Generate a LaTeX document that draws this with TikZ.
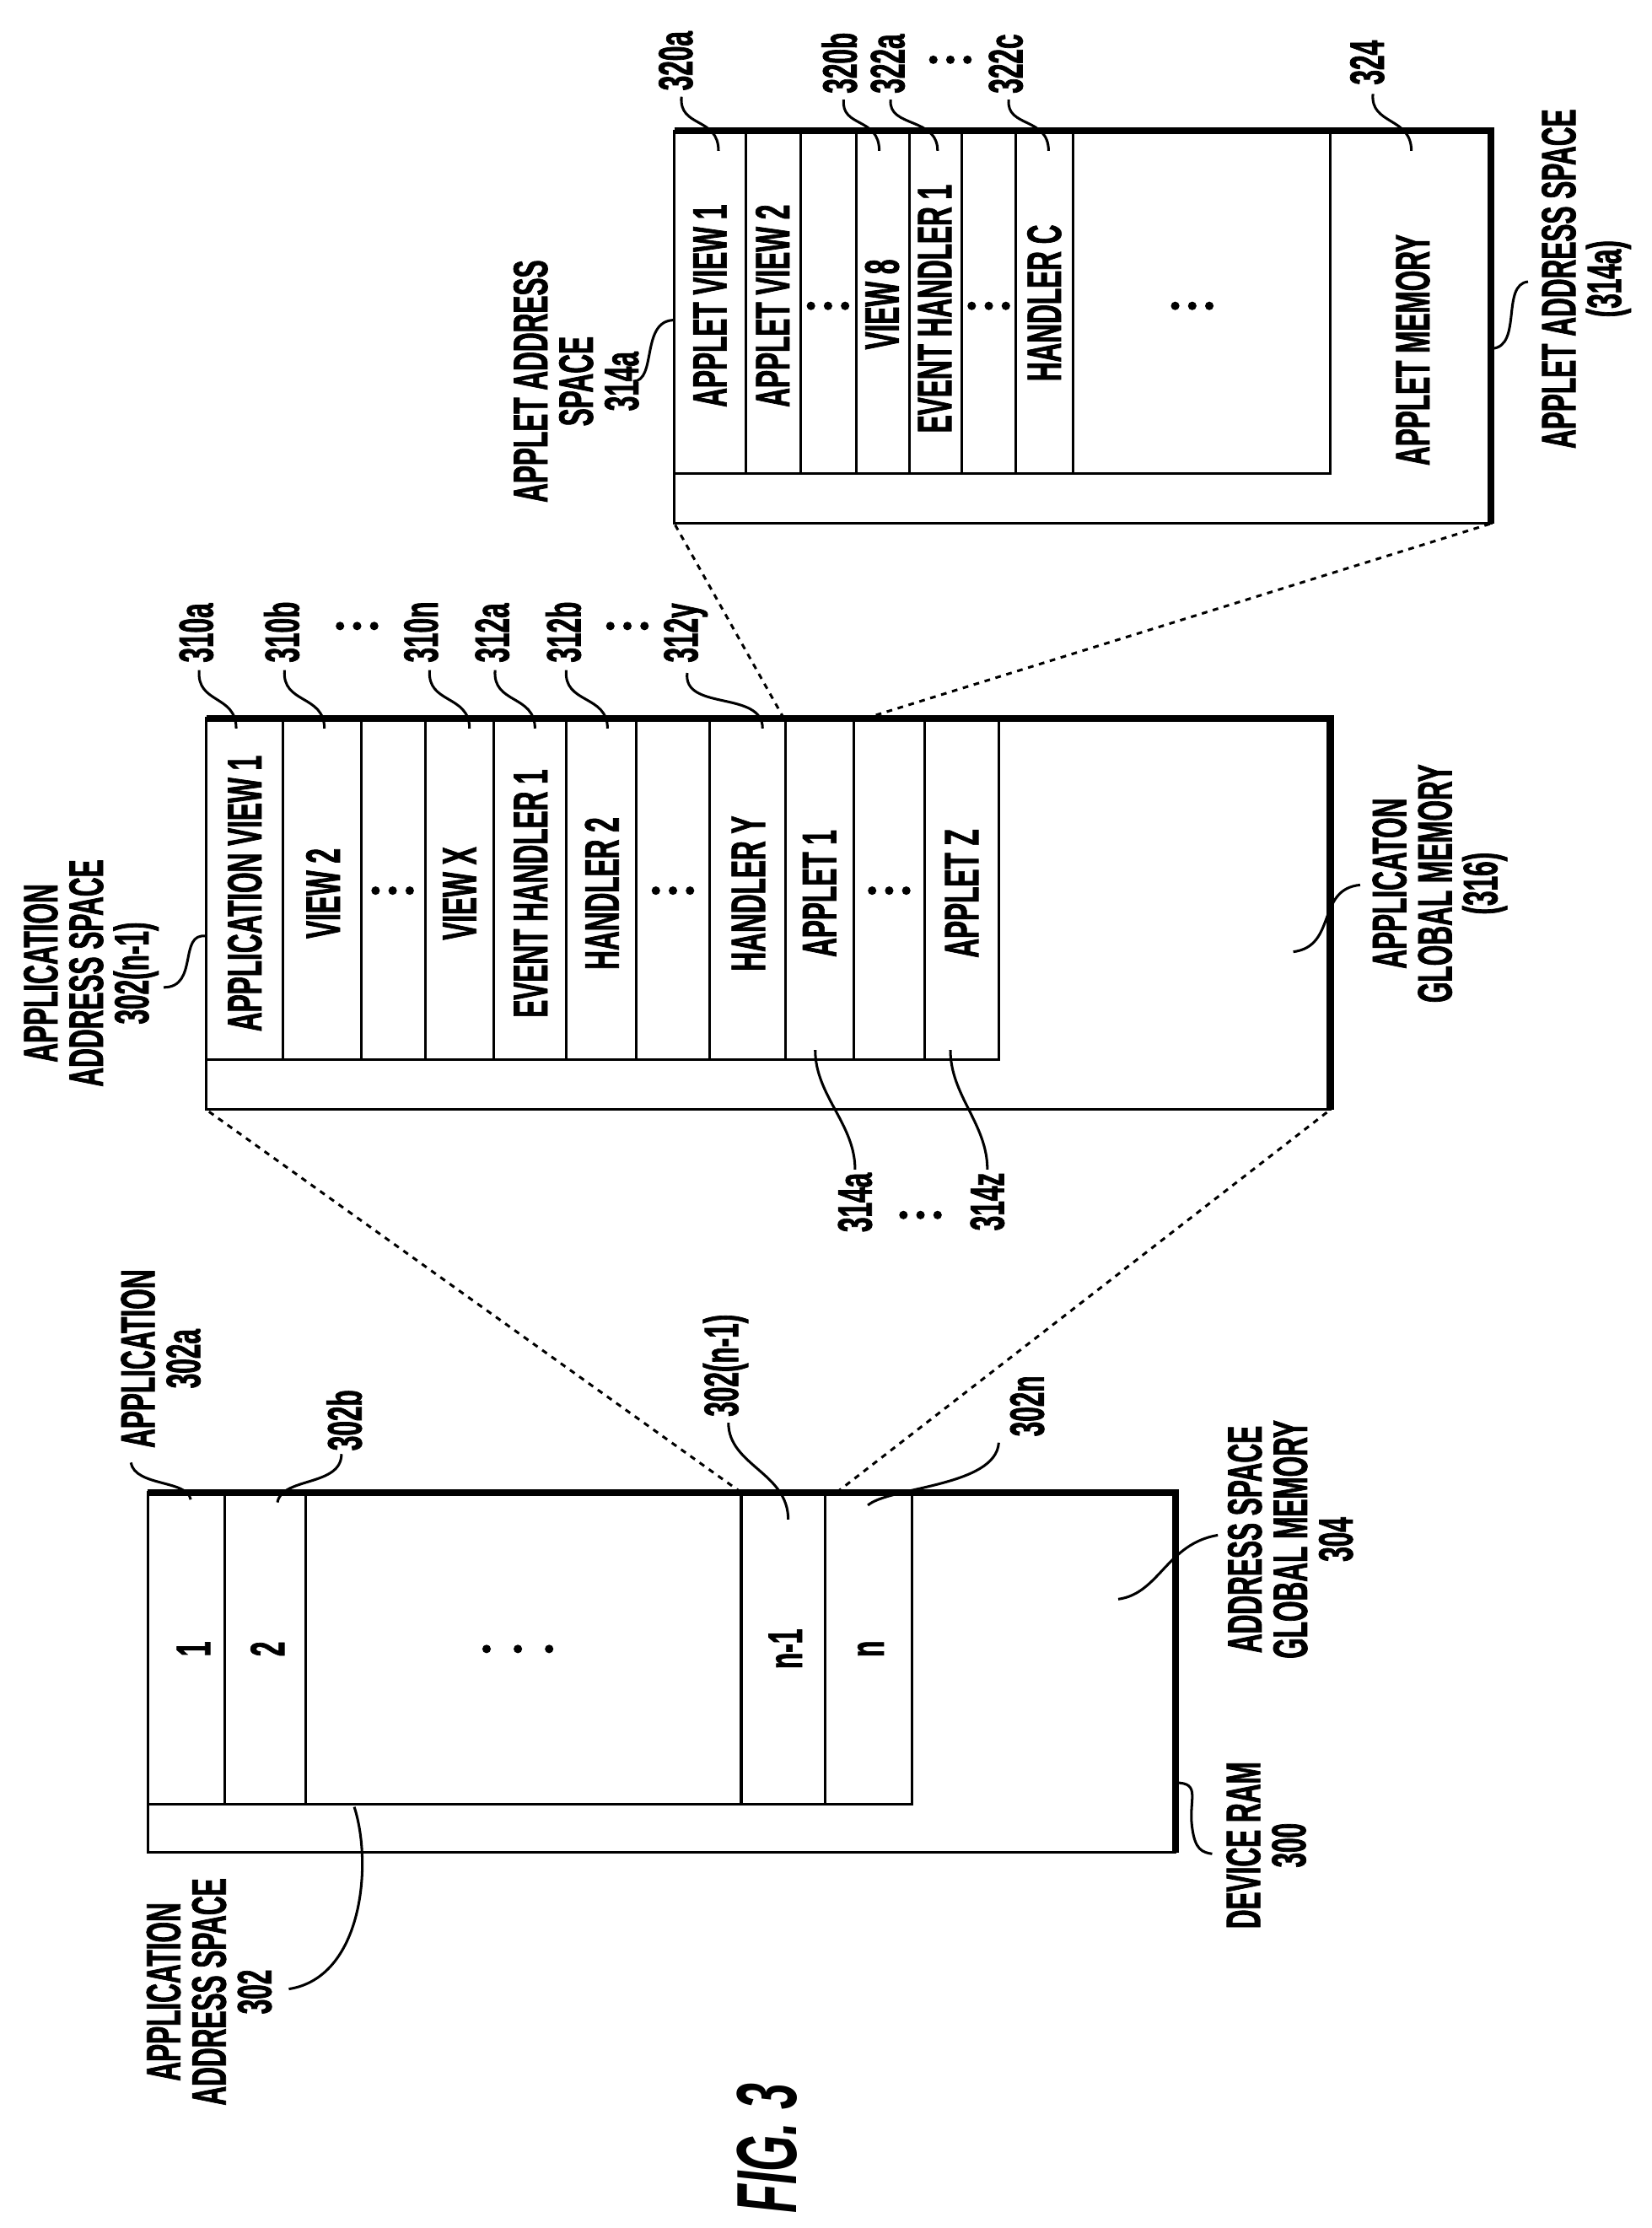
\documentclass[tikz,border=0pt]{standalone}
\usepackage{fontspec}
\setmainfont{Liberation Sans}[FakeStretch=0.55,BoldFeatures={FakeBold=1.2}]
\begin{document}
\begin{tikzpicture}[x=0.5pt,y=-0.5pt,
  box/.style={line width=0.9pt},
  thick edge/.style={line width=2.4pt},
  lead/.style={line width=0.9pt},
  dot/.style={dash pattern=on 2pt off 2pt,line width=0.9pt},
  t/.style={rotate=90,font=\bfseries\fontsize{17}{16}\selectfont,align=center,inner sep=1pt},
  lb/.style={rotate=90,font=\bfseries\fontsize{17}{16}\selectfont,align=center,inner sep=1pt}]
\useasboundingbox[fill=white] (0,0) rectangle (1161,1566);
\newcommand{\hdots}[2]{\foreach \dx in {-12,0,12} \fill (#1+\dx,#2) circle (3);}
% ---------------- DEVICE RAM ----------------
\draw[box] (104,1049) rectangle (826,1302);
\draw[box] (104,1268) -- (641,1268) -- (641,1049);
\foreach \x in {158,215,521,580} \draw[box] (\x,1049) -- (\x,1268);
\draw[thick edge] (104,1049) -- (826,1049) -- (826,1302);
\node[t] (r1) at (136,1159) {1};
\node[t] (r2) at (188,1159) {2};
\foreach \x in {342,364,386} \fill (\x,1159) circle (3);
\node[t] (rn1) at (552,1159) {n-1};
\node[t] (rn) at (612,1159) {n};
\node[lb] (l302a) at (113,955) {APPLICATION\\302a};
\draw[lead] (134,1054) .. controls (132,1040) and (95,1045) .. (92,1028);
\node[lb,anchor=west] (l302b) at (242,1022) {302b};
\draw[lead] (195,1056) .. controls (198,1038) and (240,1045) .. (240,1022);
\node[lb,anchor=west] (l302n1) at (510,998) {302(n-1)};
\draw[lead] (554,1068) .. controls (554,1035) and (512,1030) .. (512,1000);
\node[lb,anchor=west] (l302n) at (722,1012) {302n};
\draw[lead] (610,1058) .. controls (625,1045) and (700,1045) .. (702,1014);
\node[lb] (l304) at (907,1082) {ADDRESS SPACE\\GLOBAL MEMORY\\304};
\draw[lead] (786,1124) .. controls (815,1120) and (820,1085) .. (856,1079);
\node[lb] (l300) at (890,1297) {DEVICE RAM\\300};
\draw[lead] (826,1253) .. controls (845,1253) and (835,1265) .. (838,1285) .. controls (840,1300) and (845,1302) .. (852,1303);
\node[lb] (l302) at (147,1400) {APPLICATION\\ADDRESS SPACE\\302};
\draw[lead] (249,1270) .. controls (262,1310) and (255,1390) .. (203,1398);
\node[rotate=90,font=\bfseries\itshape\fontsize{30}{30}\selectfont] (fig) at (539,1510) {FIG. 3};
% ---------------- APPLICATION BOX ----------------
\draw[box] (145,505) rectangle (935,780);
\draw[box] (145,745) -- (702,745) -- (702,505);
\foreach \x in {199,254,299,347,398,447,499,552,600,650} \draw[box] (\x,505) -- (\x,745);
\draw[thick edge] (145,505) -- (935,505) -- (935,780);
\node[t] (a1) at (172,628) {APPLICATION VIEW 1};
\node[t] (a2) at (227,628) {VIEW 2};
\hdots{276}{626}
\node[t] (a3) at (323,628) {VIEW X};
\node[t] (a4) at (373,628) {EVENT HANDLER 1};
\node[t] (a5) at (423,628) {HANDLER 2};
\hdots{473}{626}
\node[t] (a6) at (526,628) {HANDLER Y};
\node[t] (a7) at (576,628) {APPLET 1};
\hdots{625}{626}
\node[t] (a8) at (676,628) {APPLET Z};
% top labels
\node[lb,anchor=west] (n310a) at (138,468) {310a};
\draw[lead] (140,471) .. controls (138,495) and (166,488) .. (166,512);
\node[lb,anchor=west] (n310b) at (198,468) {310b};
\draw[lead] (200,471) .. controls (198,495) and (228,488) .. (228,512);
\hdots{251}{440}
\node[lb,anchor=west] (n310n) at (296,468) {310n};
\draw[lead] (302,471) .. controls (300,495) and (330,488) .. (330,512);
\node[lb,anchor=west] (n312a) at (346,468) {312a};
\draw[lead] (348,471) .. controls (346,495) and (376,488) .. (376,512);
\node[lb,anchor=west] (n312b) at (396,468) {312b};
\draw[lead] (398,471) .. controls (396,495) and (427,488) .. (427,512);
\hdots{441}{440}
\node[lb,anchor=west] (n312y) at (482,468) {312y};
\draw[lead] (483,473) .. controls (480,500) and (536,485) .. (536,512);
% bottom labels
\node[lb,anchor=east] (n314a) at (601,822) {314a};
\draw[lead] (573,738) .. controls (573,770) and (601,790) .. (601,822);
\hdots{647}{854}
\node[lb,anchor=east] (n314z) at (694,822) {314z};
\draw[lead] (668,738) .. controls (668,770) and (694,790) .. (694,822);
\node[lb] (l302n1b) at (64,684) {APPLICATION\\ADDRESS SPACE\\302(n-1)};
\draw[lead] (145,658) .. controls (125,655) and (140,694) .. (115,694);
\node[lb] (l316) at (1012,621) {APPLICATON\\GLOBAL MEMORY\\(316)};
\draw[lead] (909,669) .. controls (940,665) and (925,625) .. (956,622);
% dotted projection lines
\draw[dot] (521,1049) -- (145,780);
\draw[dot] (588,1049) -- (935,780);
\draw[dot] (551,505) -- (474,368);
\draw[dot] (608,505) -- (1048,368);
% ---------------- APPLET BOX ----------------
\draw[box] (474,92) rectangle (1048,368);
\draw[box] (474,333) -- (935,333) -- (935,92);
\foreach \x in {524,563,602,639,676,714,754} \draw[box] (\x,92) -- (\x,333);
\draw[thick edge] (474,92) -- (1048,92) -- (1048,368);
\node[t] (p1) at (499,215) {APPLET VIEW 1};
\node[t] (p2) at (543,215) {APPLET VIEW 2};
\hdots{582}{215}
\node[t] (p3) at (620,214) {VIEW 8};
\node[t] (p4) at (657,217) {EVENT HANDLER 1};
\hdots{695}{215}
\node[t] (p5) at (734,213) {HANDLER C};
\hdots{838}{215}
\node[t] (p6) at (993,246) {APPLET MEMORY};
\node[lb,anchor=west] (n320a) at (475,66) {320a};
\draw[lead] (479,68) .. controls (477,90) and (505,82) .. (505,106);
\node[lb,anchor=west] (n320b) at (590,68) {320b};
\draw[lead] (593,70) .. controls (591,90) and (618,82) .. (618,106);
\node[lb,anchor=west] (n322a) at (624,68) {322a};
\draw[lead] (626,70) .. controls (624,90) and (659,82) .. (659,106);
\hdots{668}{42}
\node[lb,anchor=west] (n322c) at (707,68) {322c};
\draw[lead] (709,70) .. controls (707,90) and (737,82) .. (737,106);
\node[lb,anchor=west] (n324) at (961,62) {324};
\draw[lead] (965,66) .. controls (963,88) and (992,82) .. (992,106);
\node[lb] (l314a) at (405,268) {APPLET ADDRESS\\SPACE\\314a};
\draw[lead] (474,225) .. controls (450,225) and (462,268) .. (445,268);
\node[lb] (l314ab) at (1115,196) {APPLET ADDRESS SPACE\\(314a)};
\draw[lead] (1049,245) .. controls (1070,243) and (1055,200) .. (1074,198);
\end{tikzpicture}
\end{document}
